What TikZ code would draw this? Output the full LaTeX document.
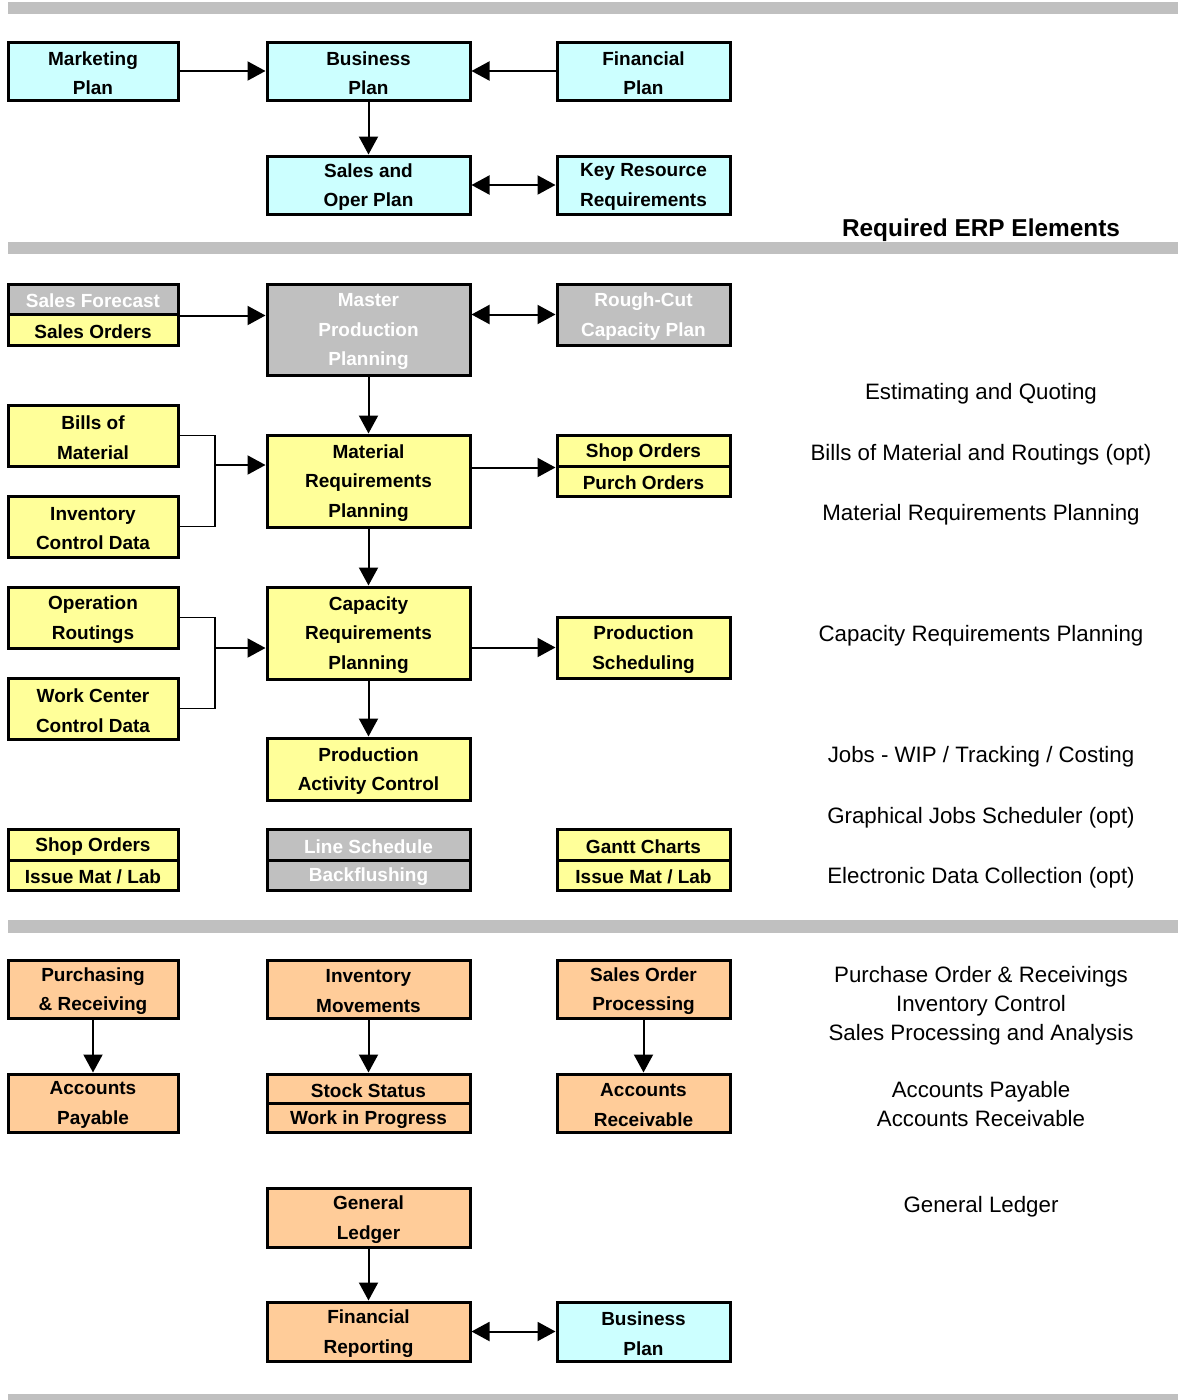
\documentclass[tikz,border=0pt]{standalone}
\usepackage{fontspec}
\setmainfont{Liberation Sans}
\usetikzlibrary{arrows.meta}

\definecolor{plancyan}{HTML}{CCFFFF}
\definecolor{mfgyellow}{HTML}{FFFF99}
\definecolor{finorange}{HTML}{FFCC99}
\definecolor{optgray}{HTML}{C0C0C0}
\definecolor{barcolor}{HTML}{C0C0C0}

\tikzset{
  ebox/.style={draw=black, line width=3pt, rectangle, inner sep=0pt},
  boxtext/.style={align=center, inner sep=0pt, yshift=-2pt,
    font=\bfseries\fontsize{19}{29.5}\selectfont},
  cy/.style={fill=plancyan},
  ye/.style={fill=mfgyellow},
  og/.style={fill=finorange},
  gr/.style={fill=optgray},
  cy text/.style={text=black},
  ye text/.style={text=black},
  og text/.style={text=black},
  gr text/.style={text=white},
  flow/.style={line width=2pt, -{Triangle[length=18pt,width=19pt]}},
  twoway/.style={line width=2pt, {Triangle[length=18pt,width=19pt]}-{Triangle[length=18pt,width=19pt]}},
  bracketline/.style={line width=1.5pt},
  bar/.style={fill=barcolor},
  elem/.style={anchor=base, font=\fontsize{22.3}{29}\selectfont},
  elemhead/.style={anchor=base, font=\bfseries\fontsize{24.4}{28}\selectfont}
}

% \ebox{name}{x1}{y1}{x2}{y2}{style}{text}
\newcommand\ebox[7]{%
  \node[ebox,#6,minimum width={(#4-#2)*1pt},minimum height={(#5-#3)*1pt},
    label={[boxtext,#6 text]center:{#7}}]
    (#1) at ({(#2+#4)/2},{(#3+#5)/2}) {};}

\begin{document}
\begin{tikzpicture}[x=1pt,y=-1pt]
\useasboundingbox[fill=white] (0,0) rectangle (1178,1400);

% section bars
\fill[bar] (8,2) rectangle (1178,14);
\fill[bar] (8,242) rectangle (1178,254);
\fill[bar] (8,920) rectangle (1178,933);
\fill[bar] (8,1394) rectangle (1178,1400);

% business planning
\ebox{mkt}{8}{42}{178}{100}{cy}{Marketing\\Plan}
\ebox{bus}{267}{42}{470}{100}{cy}{Business\\Plan}
\ebox{fin}{557}{42}{730}{100}{cy}{Financial\\Plan}
\ebox{sop}{267}{156}{470}{214}{cy}{Sales and\\Oper Plan}
\ebox{krr}{557}{156}{730}{214}{cy}{Key Resource\\Requirements}

\draw[flow] (mkt) -- (bus);
\draw[flow] (fin) -- (bus);
\draw[flow] (bus) -- (sop);
\draw[twoway] (sop) -- (krr);

% manufacturing planning and control
\ebox{sfc}{8}{284}{178}{314}{gr}{Sales Forecast}
\ebox{sord}{8}{314}{178}{345}{ye}{Sales Orders}
\ebox{mps}{267}{284}{470}{375}{gr}{Master\\Production\\Planning}
\ebox{rccp}{557}{284}{730}{345}{gr}{Rough-Cut\\Capacity Plan}

\ebox{bom}{8}{405}{178}{466}{ye}{Bills of\\Material}
\ebox{icd}{8}{496}{178}{557}{ye}{Inventory\\Control Data}
\ebox{mrp}{267}{435}{470}{527}{ye}{Material\\Requirements\\Planning}
\ebox{shop}{557}{435}{730}{466}{ye}{Shop Orders}
\ebox{purch}{557}{466}{730}{496}{ye}{Purch Orders}

\ebox{rout}{8}{587}{178}{648}{ye}{Operation\\Routings}
\ebox{wcd}{8}{678}{178}{739}{ye}{Work Center\\Control Data}
\ebox{crp}{267}{587}{470}{679}{ye}{Capacity\\Requirements\\Planning}
\ebox{psch}{557}{617}{730}{678}{ye}{Production\\Scheduling}

\ebox{pac}{267}{738}{470}{800}{ye}{Production\\Activity Control}

\ebox{so2}{8}{829}{178}{860}{ye}{Shop Orders}
\ebox{iml}{8}{860}{178}{890}{ye}{Issue Mat / Lab}
\ebox{lsch}{267}{829}{470}{860}{gr}{Line Schedule}
\ebox{bfl}{267}{860}{470}{890}{gr}{Backflushing}
\ebox{gantt}{557}{829}{730}{860}{ye}{Gantt Charts}
\ebox{iml2}{557}{860}{730}{890}{ye}{Issue Mat / Lab}

\draw[flow] (sfc.south east) -- (sfc.south east -| mps.west);
\draw[twoway] (rccp.west -| mps.east) -- (rccp.west);
\draw[flow] (mps) -- (mrp);

\coordinate (j1) at (215,465);
\draw[bracketline] (bom.east) -| (j1) |- (icd.east);
\draw[flow] (j1) -- (j1 -| mrp.west);
\draw[flow] (mrp.east |- shop.south west) -- (shop.south west);
\draw[flow] (mrp) -- (crp);

\coordinate (j2) at (215,648);
\draw[bracketline] (rout.east) -| (j2) |- (wcd.east);
\draw[flow] (j2) -- (j2 -| crp.west);
\draw[flow] (crp.east |- psch.west) -- (psch.west);
\draw[flow] (crp) -- (pac);

% financial
\ebox{pur}{8}{960}{178}{1018}{og}{Purchasing\\\& Receiving}
\ebox{invm}{267}{960}{470}{1018}{og}{Inventory\\Movements}
\ebox{sopr}{557}{960}{730}{1018}{og}{Sales Order\\Processing}
\ebox{ap}{8}{1074}{178}{1132}{og}{Accounts\\Payable}
\ebox{stock}{267}{1074}{470}{1103}{og}{Stock Status}
\ebox{wip}{267}{1103}{470}{1132}{og}{Work in Progress}
\ebox{ar}{557}{1074}{730}{1132}{og}{Accounts\\Receivable}
\ebox{gl}{267}{1188}{470}{1247}{og}{General\\Ledger}
\ebox{frep}{267}{1302}{470}{1361}{og}{Financial\\Reporting}
\ebox{bus2}{557}{1302}{730}{1361}{cy}{Business\\Plan}

\draw[flow] (pur) -- (ap);
\draw[flow] (invm) -- (stock);
\draw[flow] (sopr) -- (ar);
\draw[flow] (gl) -- (frep);
\draw[twoway] (frep) -- (bus2);

% required ERP elements column
\node[elemhead] (hd) at (981,236) {Required ERP Elements};
\node[elem] (e1) at (981,399) {Estimating and Quoting};
\node[elem] (e2) at (981,460) {Bills of Material and Routings (opt)};
\node[elem] (e3) at (981,520) {Material Requirements Planning};
\node[elem] (e4) at (981,641) {Capacity Requirements Planning};
\node[elem] (e5) at (981,762) {Jobs - WIP / Tracking / Costing};
\node[elem] (e6) at (981,823) {Graphical Jobs Scheduler (opt)};
\node[elem] (e7) at (981,883) {Electronic Data Collection (opt)};
\node[elem] (e8) at (981,982) {Purchase Order \& Receivings};
\node[elem] (e9) at (981,1011) {Inventory Control};
\node[elem] (e10) at (981,1040) {Sales Processing and Analysis};
\node[elem] (e11) at (981,1097) {Accounts Payable};
\node[elem] (e12) at (981,1126) {Accounts Receivable};
\node[elem] (e13) at (981,1212) {General Ledger};
\end{tikzpicture}
\end{document}
